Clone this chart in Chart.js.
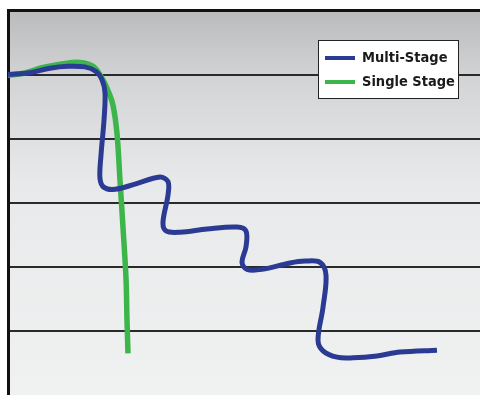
<!DOCTYPE html>
<html>
<head>
<meta charset="utf-8">
<script src="https://cdn.jsdelivr.net/npm/chart.js@4"></script>
<style>
  body { margin: 0; background: #fff; }
  #wrap { width: 480px; height: 395px; position: relative; }
</style>
</head>
<body>
<div id="wrap"><canvas id="stageChart"></canvas></div>
<script>
// Series names
const seriesNames = ["Multi-Stage", "Single Stage"];

// Multi-stage curve (x, y pairs)
const multiX = [0, 4.66, 8.9, 12.71, 16.31, 18.64, 19.92, 20.55, 20.34, 19.7, 19.49, 20.34, 22.67, 26.91, 32.2, 33.9, 33.9, 32.84, 33.47, 36.44, 42.16, 48.52, 50.42, 50.42, 49.58, 50.64, 53.81, 59.75, 62.92, 66.1, 67.37, 66.74, 65.68, 66.74, 69.7, 73.09, 78.18, 83.05, 90.89];
const multiY = [5.0, 5.03, 5.1, 5.13, 5.12, 5.05, 4.92, 4.72, 4.29, 3.74, 3.38, 3.24, 3.21, 3.29, 3.4, 3.33, 3.12, 2.7, 2.56, 2.54, 2.59, 2.62, 2.56, 2.31, 2.07, 1.96, 1.96, 2.06, 2.09, 2.07, 1.87, 1.37, 0.86, 0.69, 0.59, 0.58, 0.61, 0.67, 0.7];

// Single-stage curve
const singleX = [0, 3.18, 7.42, 11.65, 15.25, 18.01, 19.7, 21.19, 22.25, 23.09, 23.73, 24.36, 25.0, 25.21, 25.42];
const singleY = [4.99, 5.02, 5.11, 5.17, 5.19, 5.13, 4.97, 4.75, 4.52, 4.08, 3.35, 2.62, 1.82, 1.17, 0.65];

const toPoints = (xs, ys) => xs.map((x, i) => ({ x: x, y: ys[i] }));

// grey gradient behind the plot
const plotBackground = {
  id: "plotBackground",
  beforeDraw(chart) {
    const { ctx, chartArea: a } = chart;
    const g = ctx.createLinearGradient(0, a.top, 0, a.bottom);
    g.addColorStop(0, "#babbbd");
    g.addColorStop(0.18, "#d3d4d6");
    g.addColorStop(0.45, "#e8e9ea");
    g.addColorStop(1, "#f0f1f1");
    ctx.save();
    ctx.fillStyle = g;
    ctx.fillRect(a.left, a.top, a.right - a.left, a.bottom - a.top);
    ctx.restore();
  }
};

// boxed legend in the top right corner
const boxLegend = {
  id: "boxLegend",
  afterDraw(chart) {
    const ctx = chart.ctx;
    const bx = 318, by = 40, bw = 140, bh = 58;
    ctx.save();
    ctx.fillStyle = "#fff";
    ctx.fillRect(bx, by, bw, bh);
    ctx.strokeStyle = "#222";
    ctx.lineWidth = 1;
    ctx.strokeRect(bx + 0.5, by + 0.5, bw, bh);
    ctx.font = "bold 14.5px 'Liberation Sans Narrow', 'DejaVu Sans Condensed', sans-serif";
    ctx.textBaseline = "middle";
    chart.data.datasets.forEach((ds, i) => {
      const y = by + 18 + i * 24;
      ctx.fillStyle = ds.borderColor;
      ctx.fillRect(bx + 7, y - 2, 30, 4);
      ctx.fillStyle = "#1a1a1a";
      ctx.fillText(ds.label, bx + 44, y);
    });
    ctx.restore();
  }
};

new Chart(document.getElementById("stageChart"), {
  type: "scatter",
  data: {
    datasets: [
      {
        label: seriesNames[0],
        data: toPoints(multiX, multiY),
        showLine: true,
        borderColor: "#2b3a93",
        borderWidth: 5,
        tension: 0.35,
        pointRadius: 0,
        borderCapStyle: "butt"
      },
      {
        label: seriesNames[1],
        data: toPoints(singleX, singleY),
        showLine: true,
        borderColor: "#3cb54a",
        borderWidth: 5.5,
        tension: 0.35,
        pointRadius: 0,
        borderCapStyle: "butt"
      }
    ]
  },
  options: {
    responsive: true,
    maintainAspectRatio: false,
    animation: false,
    layout: { padding: { left: 8, top: 10.5, right: 0, bottom: 0 } },
    plugins: { legend: { display: false }, tooltip: { enabled: false } },
    scales: {
      x: {
        type: "linear",
        position: "top",
        min: 0,
        max: 100,
        ticks: { display: false },
        grid: { display: false, drawTicks: false },
        border: { display: true, color: "#111", width: 3 }
      },
      y: {
        min: 0,
        max: 6,
        ticks: { display: false, stepSize: 1 },
        grid: {
          drawTicks: false,
          lineWidth: 2,
          color: (c) => (c.tick && c.tick.value > 0 && c.tick.value < 6 ? "#2a2a2a" : "rgba(0,0,0,0)")
        },
        border: { display: true, color: "#111", width: 3 }
      }
    }
  },
  plugins: [plotBackground, boxLegend]
});
</script>
</body>
</html>
